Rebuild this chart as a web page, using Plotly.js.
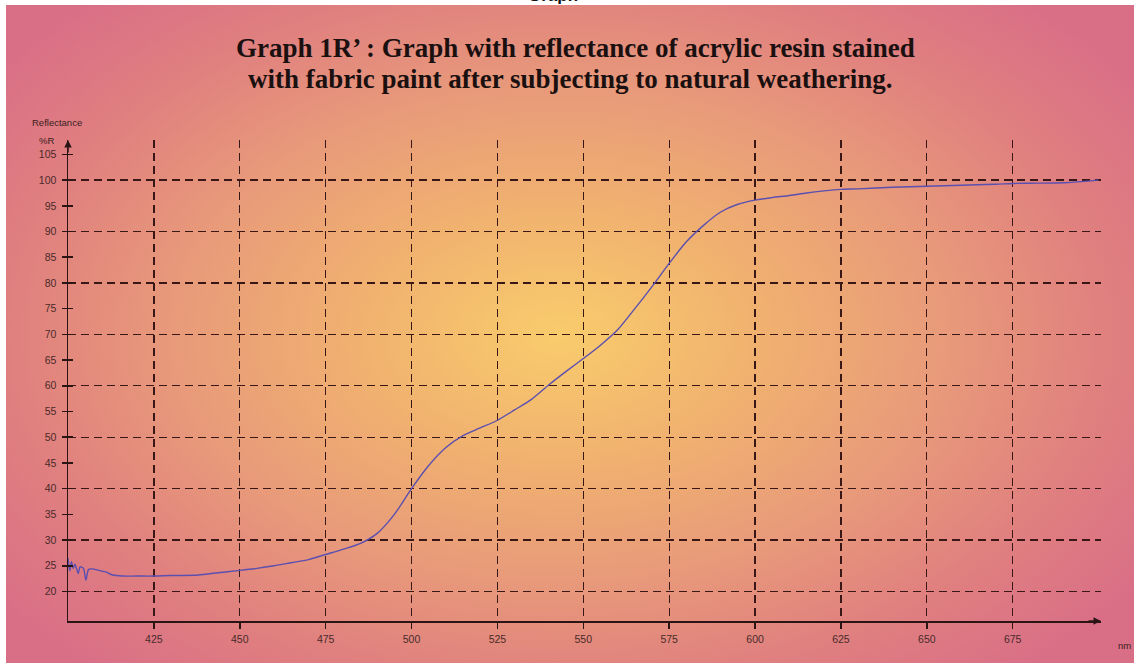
<!DOCTYPE html>
<html>
<head>
<meta charset="utf-8">
<script src="https://cdn.plot.ly/plotly-3.0.1.min.js"></script>
<style>
  html, body { margin: 0; padding: 0; background: #ffffff; }
  #wrap { position: relative; width: 1134px; height: 666px; background: #ffffff; overflow: hidden; }
  #bg { position: absolute; left: 6px; top: 5px; width: 1128px; height: 658px;
        background: radial-gradient(ellipse 62% 68% at 49% 50%, #f9cc6c 0%, #f0b070 30%, #e89a7a 55%, #e0807f 78%, #d96f87 100%); }
  #topcut { position: absolute; left: 0; top: 0; width: 1134px; height: 5px; overflow: hidden; }
  #topcut span { position: absolute; left: 528px; top: -14px; font: bold 17px "Liberation Sans", Arial, sans-serif; color: #111; }
  #chart { position: absolute; left: 0; top: 0; width: 1134px; height: 666px; }
</style>
</head>
<body>
<div id="wrap">
  <div id="bg"></div>
  <div id="topcut"><span>Graph</span></div>
  <div id="chart"></div>
</div>
<script>
// Wavelength (nm) and reflectance (%R)
const wavelength = [400, 400.5, 401, 401.5, 402, 403, 403.5, 404.5, 405.2, 406, 407, 409, 411, 413, 416, 420, 425, 430, 438, 443, 450, 455, 460, 465, 470, 475, 480, 485, 490, 495, 500, 505, 510, 515, 520, 525, 530, 535, 540, 545, 550, 555, 560, 565, 570, 575, 580, 585, 590, 595, 600, 605, 610, 615, 620, 625, 630, 640, 650, 660, 670, 675, 680, 690, 695, 700];
const reflectance = [26.5, 24.0, 25.8, 24.5, 25.3, 23.5, 24.8, 24.5, 22.2, 24.3, 24.4, 24.1, 23.8, 23.2, 23.0, 23.0, 23.0, 23.1, 23.2, 23.6, 24.1, 24.5, 25.0, 25.6, 26.2, 27.2, 28.2, 29.3, 31.3, 35.0, 40.0, 44.5, 48.0, 50.3, 51.8, 53.3, 55.3, 57.4, 60.2, 62.8, 65.3, 67.9, 70.9, 75.0, 79.3, 83.8, 88.0, 91.2, 93.8, 95.3, 96.1, 96.6, 97.0, 97.5, 97.9, 98.2, 98.3, 98.6, 98.8, 99.0, 99.2, 99.35, 99.4, 99.5, 99.7, 100.0];

const xTicks = [425, 450, 475, 500, 525, 550, 575, 600, 625, 650, 675];
const yTicks = [20, 25, 30, 35, 40, 45, 50, 55, 60, 65, 70, 75, 80, 85, 90, 95, 100, 105];
const yGrid = [20, 30, 40, 50, 60, 70, 80, 90, 100];

const titleLines = [
  "Graph 1R’ : Graph with reflectance of acrylic resin stained",
  "with fabric paint after subjecting to natural weathering."
];

const xRange = [400, 700.7];
const yRange = [14.26, 107.8];
const axisColor = '#2b1414';
const gridColor = '#3a1717';
const tickFont = { family: 'Liberation Sans, Arial, sans-serif', size: 10.5, color: '#4a2a2a' };
const labelFont = { family: 'Liberation Sans, Arial, sans-serif', size: 9.5, color: '#3a2020' };
const titleFont = { family: 'Liberation Serif, Times New Roman, serif', size: 27, color: '#1a1010', weight: 'bold' };

const traces = [
  { x: wavelength, y: reflectance, type: 'scatter', mode: 'lines',
    line: { color: '#5b4fb0', width: 1.4, shape: 'spline', smoothing: 0.8 }, hoverinfo: 'x+y', showlegend: false },
  { x: [], y: [], yaxis: 'y2', showlegend: false, hoverinfo: 'skip' },
  { x: [], y: [], yaxis: 'y3', showlegend: false, hoverinfo: 'skip' }
];

const layout = {
  width: 1134, height: 666,
  margin: { l: 68, r: 33, t: 140, b: 45 },
  paper_bgcolor: 'rgba(0,0,0,0)',
  plot_bgcolor: 'rgba(0,0,0,0)',
  showlegend: false,
  xaxis: {
    range: xRange, tickvals: xTicks, ticktext: xTicks.map(String),
    showline: true, linecolor: axisColor, linewidth: 1.5,
    ticks: 'outside', ticklen: 6, tickwidth: 1.5, tickcolor: axisColor,
    showgrid: true, gridcolor: gridColor, gridwidth: 1.3, griddash: '8px,5px',
    zeroline: false, tickfont: tickFont, ticklabelstandoff: 2, fixedrange: true
  },
  yaxis: {
    range: yRange, tickvals: yTicks, ticktext: yTicks.map(String),
    showline: true, linecolor: axisColor, linewidth: 1.5,
    ticks: 'outside', ticklen: 5, tickwidth: 1.5, tickcolor: axisColor,
    showgrid: false, zeroline: false, tickfont: tickFont, ticklabelstandoff: 3, fixedrange: true
  },
  yaxis2: {
    range: yRange, overlaying: 'y', side: 'left', tickvals: yTicks, showticklabels: false,
    ticks: 'inside', ticklen: 5, tickwidth: 1.5, tickcolor: axisColor,
    showline: false, showgrid: false, zeroline: false, fixedrange: true
  },
  yaxis3: {
    range: yRange, overlaying: 'y', side: 'left', tickvals: yGrid, showticklabels: false,
    ticks: '', showline: false, showgrid: true, gridcolor: gridColor, gridwidth: 1.3, griddash: '8px,5px',
    zeroline: false, fixedrange: true
  },
  annotations: [
    { text: titleLines[0], xref: 'paper', yref: 'paper', x: 0.491, y: 1 + (140 - 47.5) / 481, xanchor: 'center', yanchor: 'middle',
      showarrow: false, font: titleFont },
    { text: titleLines[1], xref: 'paper', yref: 'paper', x: 0.486, y: 1 + (140 - 79) / 481, xanchor: 'center', yanchor: 'middle',
      showarrow: false, font: titleFont },
    { text: 'Reflectance', xref: 'paper', yref: 'paper', x: -0.037, y: 1.037, xanchor: 'left', yanchor: 'middle',
      showarrow: false, font: labelFont },
    { text: '%R', xref: 'paper', yref: 'paper', x: -0.030, y: 0.998, xanchor: 'left', yanchor: 'middle',
      showarrow: false, font: labelFont },
    { text: 'nm', xref: 'paper', yref: 'paper', x: 1.015, y: -0.05, xanchor: 'left', yanchor: 'middle',
      showarrow: false, font: labelFont },
    { x: xRange[0], y: yRange[1], xref: 'x', yref: 'y', text: '', showarrow: true,
      ax: 0, ay: 14, arrowhead: 2, arrowsize: 1, arrowwidth: 1.5, arrowcolor: axisColor },
    { x: xRange[1], y: yRange[0], xref: 'x', yref: 'y', text: '', showarrow: true,
      ax: -14, ay: 0, arrowhead: 2, arrowsize: 1, arrowwidth: 1.5, arrowcolor: axisColor }
  ]
};

Plotly.newPlot('chart', traces, layout, { displayModeBar: false, staticPlot: true });
</script>
</body>
</html>
